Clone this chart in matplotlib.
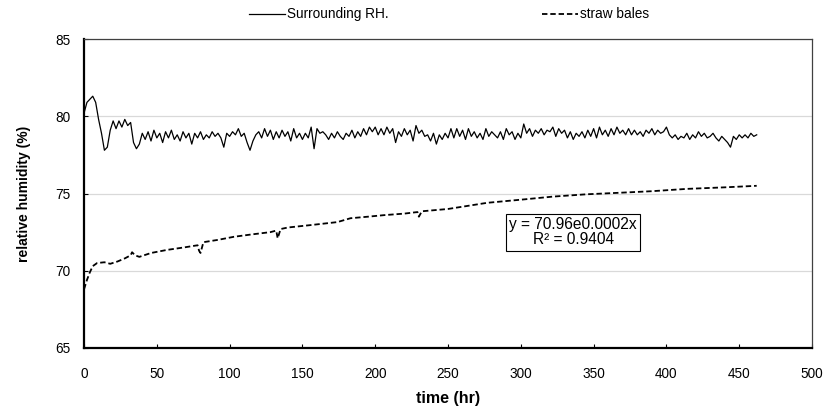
import numpy as np
import matplotlib
matplotlib.use('Agg')
import matplotlib.pyplot as plt

plt.rcParams['font.family'] = ['Liberation Sans', 'DejaVu Sans']

# Surrounding RH, read every 2 hr from the reference
rh_step = 2
surrounding_rh = [
    80.2, 80.9, 81.1, 81.3, 80.9, 79.8, 78.9, 77.8, 78.0, 79.1,
    79.7, 79.2, 79.7, 79.3, 79.8, 79.4, 79.6, 78.3, 77.9, 78.2,
    78.9, 78.5, 79.0, 78.4, 79.1, 78.6, 78.9, 78.3, 79.0, 78.6,
    79.1, 78.5, 78.8, 78.4, 79.0, 78.6, 78.9, 78.2, 78.9, 78.6,
    79.0, 78.5, 78.8, 78.6, 79.0, 78.7, 78.9, 78.6, 78.0, 78.9,
    78.7, 79.0, 78.8, 79.2, 78.7, 78.9, 78.3, 77.8, 78.4, 78.8,
    79.0, 78.6, 79.2, 78.7, 79.1, 78.5, 79.0, 78.6, 79.1, 78.7,
    79.0, 78.4, 79.2, 78.6, 78.9, 78.5, 78.9, 78.6, 79.3, 77.9,
    79.2, 78.9, 79.0, 78.8, 78.5, 78.9, 78.6, 79.0, 78.7, 78.5,
    78.9, 78.7, 79.1, 78.6, 79.0, 78.7, 79.2, 78.8, 79.3, 79.0,
    79.3, 78.8, 79.2, 78.8, 79.3, 78.9, 79.2, 78.3, 79.0, 78.7,
    79.2, 78.8, 79.1, 78.4, 79.4, 78.9, 79.1, 78.7, 78.8, 78.4,
    78.9, 78.2, 78.8, 78.5, 78.9, 78.6, 79.2, 78.6, 79.2, 78.7,
    79.1, 78.5, 79.2, 78.7, 79.0, 78.6, 78.9, 78.5, 79.2, 78.7,
    79.0, 78.8, 78.6, 79.0, 78.5, 79.2, 78.8, 79.0, 78.5, 78.9,
    78.6, 79.5, 78.9, 79.2, 78.7, 79.1, 78.9, 79.2, 78.8, 79.1,
    79.0, 79.3, 78.7, 79.2, 78.9, 79.1, 78.6, 79.0, 78.5, 78.9,
    78.7, 79.0, 78.6, 79.1, 78.7, 79.2, 78.6, 79.3, 78.8, 79.1,
    78.7, 79.2, 78.8, 79.3, 78.9, 79.1, 78.8, 79.2, 78.8, 79.1,
    78.8, 79.0, 78.7, 79.1, 78.9, 79.2, 78.8, 79.1, 78.9, 79.0,
    79.3, 78.8, 78.6, 78.8, 78.5, 78.7, 78.6, 78.9, 78.5, 78.8,
    78.6, 79.0, 78.7, 78.9, 78.6, 78.7, 78.9, 78.6, 78.4, 78.7,
    78.5, 78.3, 78.0, 78.7, 78.5, 78.8, 78.6, 78.8, 78.6, 78.9,
    78.7, 78.8,
]
rh_time = np.arange(len(surrounding_rh)) * rh_step

# Straw bales RH
bale_time = [0, 2, 4, 6, 9, 14, 18, 23, 28, 32, 33, 35, 38, 46, 57, 68, 78, 79,
             80, 82, 92, 103, 115, 128, 132, 133, 135, 140, 155, 174, 183, 195,
             206, 220, 229, 230, 232, 250, 277, 300, 322, 345, 368, 390, 414,
             440, 462]
bale_rh = [68.8, 69.4, 69.9, 70.3, 70.5, 70.55, 70.45, 70.6, 70.8, 71.0, 71.2,
           71.0, 70.9, 71.15, 71.35, 71.5, 71.65, 71.3, 71.15, 71.85, 72.0, 72.2,
           72.35, 72.5, 72.6, 72.1, 72.7, 72.8, 72.95, 73.15, 73.4, 73.5, 73.6,
           73.7, 73.8, 73.5, 73.85, 74.0, 74.4, 74.6, 74.8, 74.95, 75.05, 75.15,
           75.3, 75.4, 75.5]

trend_label = 'y = 70.96e0.0002x\nR² = 0.9404'

fig = plt.figure(figsize=(8.27, 4.11), dpi=100)
ax = fig.add_axes([0.1016, 0.1533, 0.8803, 0.7517])

ax.plot(rh_time, surrounding_rh, color='black', lw=0.9, label='Surrounding RH.')
ax.plot(bale_time, bale_rh, color='black', lw=1.3, dashes=(3, 1.6), label='straw bales')

ax.set_xlim(0, 500)
ax.set_ylim(65, 85)
ax.set_xticks(np.arange(0, 501, 50))
ax.set_yticks(np.arange(65, 86, 5))
ax.grid(axis='y', color='#d9d9d9', lw=0.9)
ax.set_axisbelow(True)
ax.tick_params(direction='in', length=3, labelsize=9.8, colors='black')
ax.tick_params(axis='y', pad=10)
ax.tick_params(axis='x', pad=14)

for side in ['left', 'bottom']:
    ax.spines[side].set_linewidth(1.6)
    ax.spines[side].set_color('black')
for side in ['top', 'right']:
    ax.spines[side].set_linewidth(0.9)
    ax.spines[side].set_color('#404040')

ax.set_xlabel('time (hr)', fontsize=11.5, fontweight='bold', labelpad=7)
ax.set_ylabel('relative humidity (%)', fontsize=10, fontweight='bold', labelpad=17)

ax.text(336, 72.5, trend_label, ha='center', va='center', fontsize=11.2,
        linespacing=1.05,
        bbox=dict(boxstyle='square,pad=0.2', fc='white', ec='black', lw=0.8))

fig.legend(loc='center', bbox_to_anchor=(0.543, 0.965), ncol=2, frameon=False,
           fontsize=9.8, handlelength=2.7, handletextpad=0.15, columnspacing=11.2)

fig.savefig('out.png', dpi=100)
